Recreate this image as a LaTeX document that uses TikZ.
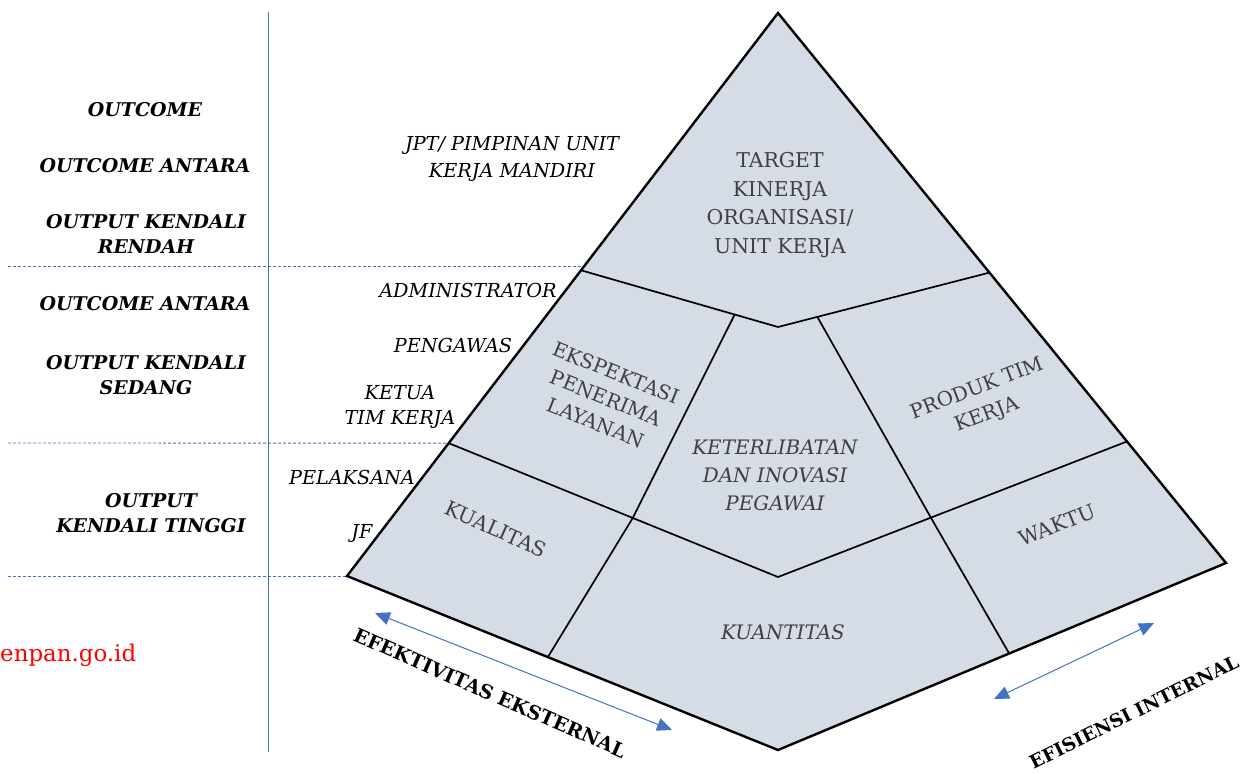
\documentclass[tikz,border=0pt]{standalone}
\usepackage{fontspec}
\setmainfont{DejaVu Serif}
\usetikzlibrary{arrows.meta,calc}
\definecolor{pyrfill}{HTML}{D6DCE5}
\definecolor{ablue}{HTML}{4472C4}
\definecolor{intext}{HTML}{404040}
\begin{document}
\begin{tikzpicture}[x=1bp,y=-1bp,
 lvl/.style={font=\fontsize{19}{25}\selectfont\bfseries\itshape, align=center, inner sep=0pt},
 role/.style={font=\fontsize{19.3}{28}\selectfont\itshape, align=center, inner sep=0pt},
 intxt/.style={text=intext, font=\fontsize{20.5}{29}\selectfont, align=center, inner sep=0pt},
 intxti/.style={intxt, font=\fontsize{20}{28}\selectfont\itshape},
 outline/.style={line width=2.4bp, line join=miter},
 divline/.style={line width=1.7bp},
 guide/.style={ablue, line width=0.9bp, dash pattern=on 3bp off 2bp},
 dblarrow/.style={ablue, line width=1bp, {Triangle[length=15bp,width=13bp]}-{Triangle[length=15bp,width=13bp]}},
 axislbl/.style={font=\fontsize{19.5}{22}\selectfont\bfseries, inner sep=0pt}
]
\useasboundingbox (0,0) rectangle (1251,774);
% pyramid corners
\coordinate (A) at (778,13);
\coordinate (L) at (347,576);
\coordinate (B) at (778,750);
\coordinate (R) at (1226,563);
% inner boundaries
\coordinate (T1) at ($(A)!0.457!(L)$);
\coordinate (TC) at (778,327);
\coordinate (T2) at ($(A)!0.472!(R)$);
\coordinate (M1) at ($(A)!0.764!(L)$);
\coordinate (MC) at (778,577);
\coordinate (M2) at ($(A)!0.779!(R)$);
\coordinate (D1a) at ($(T1)!0.78!(TC)$);
\coordinate (D1b) at ($(M1)!0.559!(MC)$);
\coordinate (D1c) at ($(L)!0.466!(B)$);
\coordinate (D2a) at ($(TC)!0.186!(T2)$);
\coordinate (D2b) at ($(MC)!0.438!(M2)$);
\coordinate (D2c) at ($(B)!0.516!(R)$);
% guides
\coordinate (g0a) at (268,12);
\coordinate (g0b) at (268,752);
\draw[ablue, line width=1bp] (g0a) -- (g0b);
\coordinate (g1) at (8,266);
\coordinate (g1e) at (583,266);
\coordinate (g2) at (8,443);
\coordinate (g3) at (8,576);
\draw[guide] (g1) -- (g1e);
\draw[guide] (g2) -- (M1);
\draw[guide] (g3) -- (L);
% pyramid
\fill[pyrfill] (A) -- (R) -- (B) -- (L) -- cycle;
\draw[divline] (T1) -- (TC) -- (T2);
\draw[divline] (M1) -- (MC) -- (M2);
\draw[divline] (D1a) -- (D1b) -- (D1c);
\draw[divline] (D2a) -- (D2b) -- (D2c);
\draw[outline] (A) -- (R) -- (B) -- (L) -- cycle;
% left level labels
\node[lvl] (o1) at (145,110) {OUTCOME};
\node[lvl] (o2) at (145,166) {OUTCOME ANTARA};
\node[lvl] (o3) at (146,234) {OUTPUT KENDALI\\RENDAH};
\node[lvl] (o4) at (145,304) {OUTCOME ANTARA};
\node[lvl] (o5) at (146,375) {OUTPUT KENDALI\\SEDANG};
\node[lvl] (o6) at (151,513) {OUTPUT\\KENDALI TINGGI};
\node[anchor=west, inner sep=0pt, text=red, font=\fontsize{23}{26}\selectfont] (web) at (0,655) {enpan.go.id};
% role labels
\node[role] (r1) at (512,159) {JPT/ PIMPINAN UNIT\\KERJA MANDIRI};
\node[role] (r2) at (468,290) {ADMINISTRATOR};
\node[role] (r3) at (453,345) {PENGAWAS};
\node[role, font=\fontsize{19.3}{25}\selectfont\itshape] (r4) at (400,407) {KETUA\\TIM KERJA};
\node[role] (r5) at (352,477) {PELAKSANA};
\node[role] (r6) at (362,533) {JF};
% inside labels
\node[intxt] (p1) at (780,205) {TARGET\\KINERJA\\ORGANISASI/\\UNIT KERJA};
\node[intxt, rotate=-22, font=\fontsize{20}{27}\selectfont] (p2) at (606,398) {EKSPEKTASI\\PENERIMA\\LAYANAN};
\node[intxti] (p3) at (775,475) {KETERLIBATAN\\DAN INOVASI\\PEGAWAI};
\node[intxt, rotate=21, font=\fontsize{20}{28}\selectfont] (p4) at (982,402) {PRODUK TIM\\KERJA};
\node[intxt, rotate=-24] (p5) at (496,529) {KUALITAS};
\node[intxti] (p6) at (783,632) {KUANTITAS};
\node[intxt, rotate=22] (p7) at (1057,525) {WAKTU};
% axis arrows
\coordinate (e1) at (375,613);
\coordinate (e2) at (672,730);
\coordinate (f1) at (994,699);
\coordinate (f2) at (1154,623);
\draw[dblarrow] (e1) -- (e2);
\draw[dblarrow] (f1) -- (f2);
\node[axislbl, rotate=-23.6] (ax1) at (490,693) {EFEKTIVITAS EKSTERNAL};
\node[axislbl, rotate=26.5, font=\fontsize{18.6}{22}\selectfont\bfseries] (ax2) at (1134,712) {EFISIENSI INTERNAL};
\end{tikzpicture}
\end{document}
